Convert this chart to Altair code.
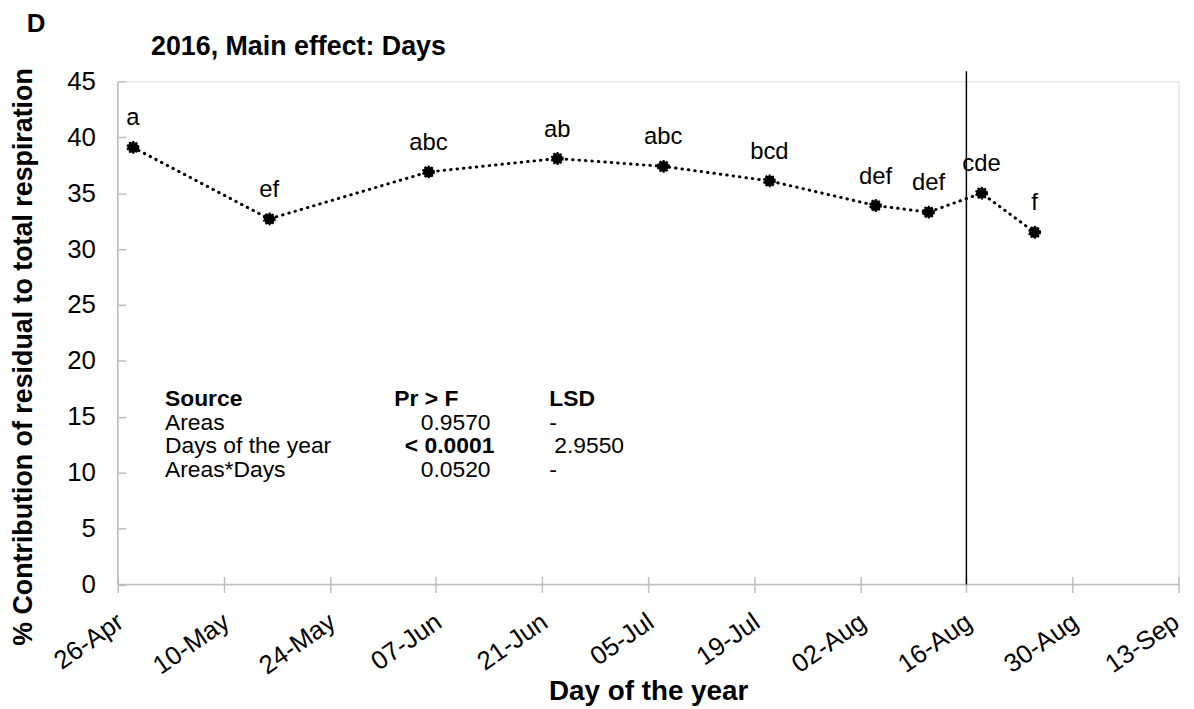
import json
import altair as alt
import pandas as pd

# ---------------- data ----------------
dates = ["2016-04-28", "2016-05-16", "2016-06-06", "2016-06-23", "2016-07-07",
         "2016-07-21", "2016-08-04", "2016-08-11", "2016-08-18", "2016-08-25"]
values = [39.1, 32.7, 36.9, 38.1, 37.4, 36.1, 33.9, 33.3, 35.0, 31.5]
letters = ["a", "ef", "abc", "ab", "abc", "bcd", "def", "def", "cde", "f"]

start_date = "2016-04-26"
tick_labels = ["26-Apr", "10-May", "24-May", "07-Jun", "21-Jun", "05-Jul",
               "19-Jul", "02-Aug", "16-Aug", "30-Aug", "13-Sep"]
tick_step = 14
marker_date = "2016-08-16"
y_ticks = [0, 5, 10, 15, 20, 25, 30, 35, 40, 45]

table_source = ["Source", "Areas", "Days of the year", "Areas*Days"]
table_p = ["Pr > F", "0.9570", "< 0.0001", "0.0520"]
table_lsd = ["LSD", "-", "2.9550", "-"]

# ---------------- layout constants ----------------
FONT = "Liberation Sans"
W, H = 1068, 506.5
x_max = tick_step * (len(tick_labels) - 1)
row_y = [15.99, 13.86, 11.73, 9.6]          # table row baselines (data units)
col_source, col_p_left, col_p_right, col_lsd = 6.23, 36.5, 49.2, 56.96
col_p_bold_right, col_lsd_val = 49.7, 57.6
TABLE_FS = 23

t0 = pd.Timestamp(start_date)
day = [(pd.Timestamp(d) - t0).days for d in dates]
df = pd.DataFrame({"day": day, "value": values, "letter": letters})

x_scale = alt.Scale(domain=[0, x_max], nice=False, zero=False)
y_scale = alt.Scale(domain=[0, 45], nice=False)

x_axis = alt.Axis(
    values=list(range(0, x_max + 1, tick_step)),
    labelExpr=json.dumps(tick_labels) + "[round(datum.value/%d)]" % tick_step,
    offset=-8, tickSize=16, domain=False, grid=False,
    tickColor="#bfbfbf", tickWidth=1.5,
    labelAngle=-35, labelAlign="right", labelBaseline="top", labelPadding=16,
    labelOffset={"condition": {"test": "datum.value >= %d" % x_max, "value": -10},
                 "value": -5},
    labelFontSize=26, labelColor="black", labelFont=FONT,
    labelOverlap=False,
    title="Day of the year", titleFont=FONT, titleFontSize=28, titleFontWeight="bold",
    titleColor="black", titleX=W / 2, titleY=124, titleAlign="center",
    titleBaseline="alphabetic", titleAngle=0,
)
y_axis = alt.Axis(
    values=y_ticks, offset=-8, tickSize=8, domain=False, grid=False,
    tickColor="#bfbfbf", tickWidth=1.5,
    labelPadding=22.5, labelFontSize=26, labelColor="black", labelFont=FONT,
    title="% Contribution of residual to total respiration", titleFont=FONT,
    titleFontSize=27, titleFontWeight="bold", titleColor="black",
    titleX=-103, titleY=277, titleAngle=270, titleAlign="center",
    titleBaseline="middle",
)

X = alt.X("day:Q", scale=x_scale, axis=x_axis)
Y = alt.Y("value:Q", scale=y_scale, axis=y_axis)

base = alt.Chart(df)

line = base.mark_line(color="black", strokeWidth=3, strokeDash=[0.5, 6],
                      strokeCap="round").encode(x=X, y=Y)
pts = base.mark_point(filled=True, shape="circle", size=120, color="black",
                      opacity=1, stroke="black", strokeWidth=2,
                      strokeDash=[2, 1.5]).encode(x=X, y=Y)
lbl = base.mark_text(dy=-22, baseline="alphabetic", align="center",
                     fontSize=24, font=FONT, color="black").encode(
    x=X, y=Y, text="letter:N")

# axis lines
xdom = alt.Chart(pd.DataFrame({"day": [0], "day2": [x_max], "value": [0]})).mark_rule(
    color="#bfbfbf", strokeWidth=1.5).encode(x=X, x2="day2:Q", y=Y)
ydom = alt.Chart(pd.DataFrame({"day": [0], "value": [0], "value2": [45]})).mark_rule(
    color="#bfbfbf", strokeWidth=1.5).encode(x=X, y=Y, y2="value2:Q")

# vertical marker
mday = (pd.Timestamp(marker_date) - t0).days
vline = alt.Chart(pd.DataFrame({"day": [mday], "value": [0], "value2": [45.9]})).mark_rule(
    color="black", strokeWidth=1.5, clip=False).encode(x=X, y=Y, y2="value2:Q")

# statistics table
def tbl(texts, xs, ys, align, bold):
    d = pd.DataFrame({"day": xs, "value": ys, "t": texts})
    return alt.Chart(d).mark_text(align=align, baseline="alphabetic", fontSize=TABLE_FS,
                                  font=FONT, color="black",
                                  fontWeight="bold" if bold else "normal").encode(
        x=X, y=Y, text="t:N")

t_src_h = tbl([table_source[0]], [col_source], [row_y[0]], "left", True)
t_src = tbl(table_source[1:], [col_source] * 3, row_y[1:], "left", False)
t_p_h = tbl([table_p[0]], [col_p_left], [row_y[0]], "left", True)
t_p = tbl([table_p[1], table_p[3]], [col_p_right] * 2, [row_y[1], row_y[3]], "right", False)
t_p_b = tbl([table_p[2]], [col_p_bold_right], [row_y[2]], "right", True)
t_l_h = tbl([table_lsd[0]], [col_lsd], [row_y[0]], "left", True)
t_l = tbl([table_lsd[1], table_lsd[3]], [col_lsd] * 2, [row_y[1], row_y[3]], "left", False)
t_l_v = tbl([table_lsd[2]], [col_lsd_val], [row_y[2]], "left", False)

# panel letter and title
hdr = alt.Chart(pd.DataFrame({"t": ["D"]})).mark_text(
    align="left", baseline="alphabetic", fontSize=26, fontWeight="bold",
    font=FONT, color="black").encode(x=alt.value(-91.5), y=alt.value(-50), text="t:N")
ttl = alt.Chart(pd.DataFrame({"t": ["2016, Main effect: Days"]})).mark_text(
    align="left", baseline="alphabetic", fontSize=27, fontWeight="bold",
    font=FONT, color="black").encode(x=alt.value(33.5), y=alt.value(-26.5), text="t:N")

chart = alt.layer(
    xdom, ydom, vline, line, pts, lbl,
    t_src_h, t_src, t_p_h, t_p, t_p_b, t_l_h, t_l, t_l_v, hdr, ttl,
).properties(
    width=W, height=H,
    autosize=alt.AutoSizeParams(type="none"),
    padding={"left": 110.5, "top": 71.5, "right": 7.5, "bottom": 123},
).configure_view(stroke=None).configure(background="white")

chart.save("out.html", embed_options={"renderer": "svg", "actions": False})
